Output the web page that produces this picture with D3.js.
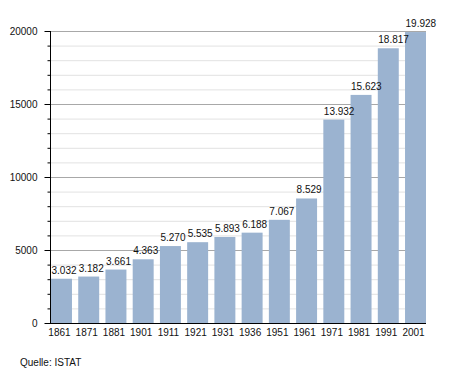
<!DOCTYPE html>
<html><head><meta charset="utf-8">
<script src="https://cdn.jsdelivr.net/npm/d3@7"></script>
<style>body{margin:0;background:#fff}svg{display:block;font-family:"Liberation Sans",Arial,sans-serif}</style>
</head><body>
<svg id="c" width="455" height="373"></svg>
<script>
const years = ["1861","1871","1881","1901","1911","1921","1931","1936","1951","1961","1971","1981","1991","2001"];
const population = [3032,3182,3661,4363,5270,5535,5893,6188,7067,8529,13932,15623,18817,19928];
const labels = ["3.032","3.182","3.661","4.363","5.270","5.535","5.893","6.188","7.067","8.529","13.932","15.623","18.817","19.928"];
const yTicks = [0,5000,10000,15000,20000];
const yMinor = d3.range(0,20001,1000);
const source = "Quelle: ISTAT";

(function(){
const svg = d3.select("#c");
const mL = 50, mR = 426, mT = 31, mB = 323;
const FS = 10;
const y = d3.scaleLinear().domain([0,20000]).range([mB, mT]);
const x = d3.scaleBand().domain(years).range([mL+1, mR]).paddingInner(0.23).paddingOuter(0);

// minor gridlines
svg.append("g").selectAll("line").data(yMinor.filter(v => v % 5000 !== 0)).join("line")
  .attr("x1", mL).attr("x2", mR).attr("y1", d => y(d)+0.5).attr("y2", d => y(d)+0.5)
  .attr("stroke", "#e2e2e2").attr("stroke-width", 1);
// major gridlines
svg.append("g").selectAll("line").data(yTicks.filter(v => v > 0)).join("line")
  .attr("x1", mL).attr("x2", mR).attr("y1", d => y(d)+0.5).attr("y2", d => y(d)+0.5)
  .attr("stroke", "#a8a8a8").attr("stroke-width", 1);

// bars
svg.append("g").selectAll("rect").data(population).join("rect")
  .attr("x", (d,i) => x(years[i])).attr("width", x.bandwidth())
  .attr("y", d => y(d)).attr("height", d => mB - y(d))
  .attr("fill", "#9bb3d0");

// value labels (left-aligned with bar)
svg.append("g").selectAll("text").data(population).join("text")
  .attr("x", (d,i) => x(years[i]) + 0.5)
  .attr("y", d => y(d) - 5)
  .attr("text-anchor", "start").attr("font-size", FS).attr("fill", "#111")
  .text((d,i) => labels[i]);

// y axis
const yAxis = d3.axisLeft(y).tickValues(yTicks).tickSize(6).tickPadding(7).tickFormat(d3.format("d"));
const gy = svg.append("g").attr("transform", `translate(${mL+0.5},0)`).call(yAxis);
gy.select(".domain").attr("d", `M0,${mT}V${mB}`).attr("stroke", "#000");
gy.selectAll(".tick line").attr("stroke", "#000");
gy.selectAll("text").attr("font-size", FS).attr("fill", "#111").attr("font-family", "Liberation Sans, Arial, sans-serif");
gy.append("g").selectAll("line").data(yMinor.filter(v => v % 5000 !== 0)).join("line")
  .attr("x1", -3).attr("x2", 0).attr("y1", d => y(d)+0.5).attr("y2", d => y(d)+0.5).attr("stroke", "#000");

// x axis
const xAxis = d3.axisBottom(x).tickSize(0).tickPadding(5);
const gx = svg.append("g").attr("transform", `translate(0,${mB+0.5})`).call(xAxis);
gx.select(".domain").attr("d", `M${mL-5},0H${mR}`).attr("stroke", "#000");
gx.selectAll("text").attr("font-size", FS).attr("fill", "#111").attr("dx", -2).attr("font-family", "Liberation Sans, Arial, sans-serif");

svg.append("text").attr("x", 20).attr("y", 366).attr("font-size", FS).attr("fill", "#111").text(source);
})();
</script>
</body></html>
